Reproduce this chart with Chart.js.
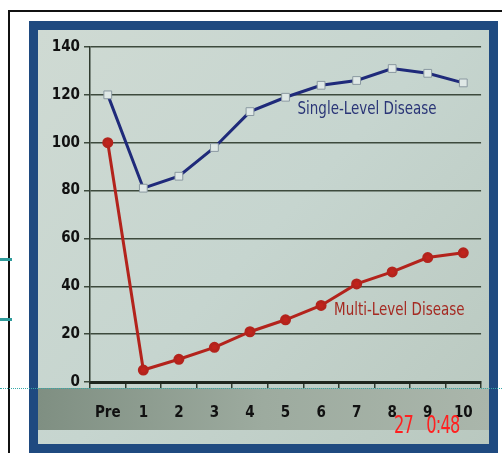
<!DOCTYPE html>
<html>
<head>
<meta charset="utf-8">
<script src="https://cdn.jsdelivr.net/npm/chart.js@4.4.1/dist/chart.umd.min.js"></script>
<style>
  body { margin: 0; background: #fff; width: 502px; height: 453px; overflow: hidden; position: relative; }
  #frameBlack { position: absolute; left: 8px; top: 10px; width: 600px; height: 500px; border-left: 2px solid #111; border-top: 2px solid #111; }
  #frameBlue { position: absolute; left: 29px; top: 21px; width: 469px; height: 440px; background: #1f4a80; }
  #photo { position: absolute; left: 38px; top: 30px; width: 451px; height: 414px; }
  .teal { position: absolute; left: 0; width: 12px; height: 3px; background: #2f9c9c; }
  #dots { position: absolute; left: 0; top: 388px; width: 502px; border-top: 1px dotted #35a8a8; }
  #stamp { position: absolute; left: 394px; top: 411px; color: #ff2020; font: 24px "Liberation Sans Narrow", "DejaVu Sans Condensed", sans-serif; letter-spacing: -1px; transform: scaleX(0.75); transform-origin: left; }
</style>
</head>
<body>
<div id="frameBlack"></div>
<div id="frameBlue"></div>
<div id="photo"><canvas id="chart" width="451" height="414"></canvas></div>
<div class="teal" style="top:258px"></div>
<div class="teal" style="top:318px"></div>
<div id="dots"></div>
<div id="stamp">27&nbsp;&nbsp;&nbsp;0:48</div>
<script>
// 데이터
const labels = ["Pre", "1", "2", "3", "4", "5", "6", "7", "8", "9", "10"];
const singleLevel = [120, 81, 86, 98, 113, 119, 124, 126, 131, 129, 125];
const multiLevel = [100, 5, 9.5, 14.5, 21, 26, 32, 41, 46, 52, 54];
const yTicks = [0, 20, 40, 60, 80, 100, 120, 140];

const fontFamily = '"Liberation Sans Narrow", "DejaVu Sans Condensed", "Liberation Sans", sans-serif';

// 배경 + 시리즈 라벨
const photoPlugin = {
  id: "photo",
  beforeDraw(chart) {
    const { ctx, width, height, chartArea } = chart;
    ctx.save();
    const g = ctx.createLinearGradient(0, 0, width, height);
    g.addColorStop(0, "#cfdad3");
    g.addColorStop(0.5, "#c6d5cf");
    g.addColorStop(1, "#b9c8bf");
    ctx.fillStyle = g;
    ctx.fillRect(0, 0, width, height);
    // 아래쪽 어두운 띠
    const bottom = chartArea.bottom + 6;
    const g2 = ctx.createLinearGradient(0, bottom, width, bottom);
    g2.addColorStop(0, "#7f8f82");
    g2.addColorStop(0.5, "#9dab9f");
    g2.addColorStop(1, "#aab6ab");
    ctx.fillStyle = g2;
    ctx.fillRect(0, bottom, width, 400 - bottom);
    ctx.restore();
  },
  afterDatasetsDraw(chart) {
    const { ctx, scales } = chart;
    const drawLabel = (text, color, x, y) => {
      ctx.save();
      ctx.translate(x, y);
      ctx.scale(0.88, 1);
      ctx.font = "17px " + fontFamily;
      ctx.textBaseline = "middle";
      ctx.fillStyle = color;
      ctx.fillText(text, 0, 0);
      ctx.restore();
    };
    drawLabel("Single-Level Disease", "#2a3577", scales.x.getPixelForValue(5) + 12, scales.y.getPixelForValue(114));
    drawLabel("Multi-Level Disease", "#a52a22", scales.x.getPixelForValue(6) + 13, scales.y.getPixelForValue(30));
  }
};

new Chart(document.getElementById("chart").getContext("2d"), {
  type: "line",
  data: {
    labels: labels,
    datasets: [
      {
        label: "Single-Level Disease",
        data: singleLevel,
        borderColor: "#1f2a7a",
        borderWidth: 3,
        pointStyle: "rect",
        pointRadius: 5.5,
        pointBackgroundColor: "#dfe8e6",
        pointBorderColor: "#8a98a0",
        pointBorderWidth: 1,
        tension: 0
      },
      {
        label: "Multi-Level Disease",
        data: multiLevel,
        borderColor: "#b3231c",
        borderWidth: 3,
        pointStyle: "circle",
        pointRadius: 4,
        pointBackgroundColor: "#c0231c",
        pointBorderColor: "#b3231c",
        tension: 0
      }
    ]
  },
  options: {
    responsive: false,
    animation: false,
    layout: { padding: { top: 17, right: 3, left: 0, bottom: 0 } },
    plugins: {
      legend: { display: false },
      tooltip: { enabled: false }
    },
    scales: {
      x: {
        offset: true,
        afterFit(scale) { scale.height = 62; },
        grid: { display: true, drawOnChartArea: false, offset: true, tickLength: 6, color: "#2f3a2f", lineWidth: 1.5 },
        border: { color: "#1e261e", width: 3 },
        ticks: { color: "#111", padding: 16, font: { family: fontFamily, size: 15, weight: "bold" } }
      },
      y: {
        min: 0,
        max: 140,
        afterFit(scale) { scale.width = 52; },
        afterBuildTicks(scale) { scale.ticks = yTicks.map(v => ({ value: v })); },
        grid: { color: "#3d4a3d", lineWidth: 1.5, tickLength: 6 },
        border: { color: "#2f3a2f", width: 1.5 },
        ticks: { color: "#111", padding: 4, font: { family: fontFamily, size: 15, weight: "bold" } }
      }
    }
  },
  plugins: [photoPlugin]
});
</script>
</body>
</html>
